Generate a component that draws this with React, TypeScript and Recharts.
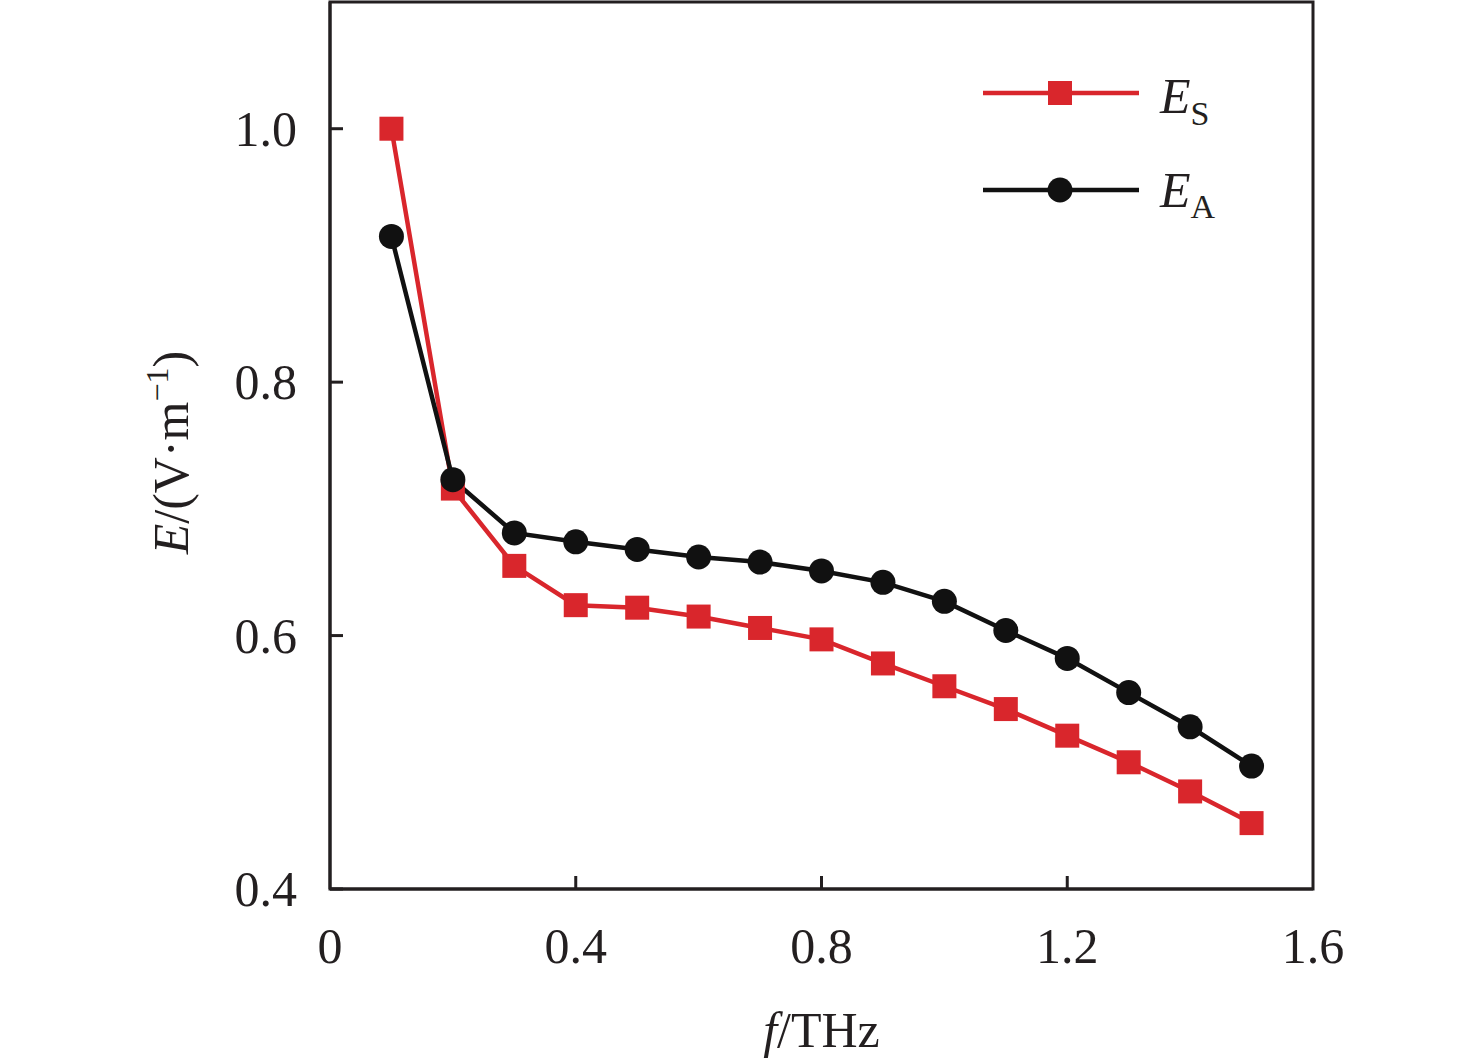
import { LineChart, Line, XAxis, YAxis, ReferenceArea, Legend, Label } from 'recharts';

// ─── Data ───
const freqs = [0.1, 0.2, 0.3, 0.4, 0.5, 0.6, 0.7, 0.8, 0.9, 1.0, 1.1, 1.2, 1.3, 1.4, 1.5];
const eS = [1.0, 0.716, 0.655, 0.624, 0.622, 0.615, 0.606, 0.597, 0.578, 0.560, 0.542, 0.521, 0.500, 0.477, 0.452];
const eA = [0.915, 0.723, 0.681, 0.674, 0.668, 0.662, 0.658, 0.651, 0.642, 0.627, 0.604, 0.582, 0.555, 0.528, 0.497];
const xTicks = [0, 0.4, 0.8, 1.2, 1.6];
const yTicks = [0.4, 0.6, 0.8, 1.0];

const data = freqs.map((f, i) => ({ f, es: eS[i], ea: eA[i] }));

const RED = '#d9262c';
const BLACK = '#111111';
const AXIS = '#231f20';
const FONT = '"Liberation Serif", "Times New Roman", serif';

const fmtX = (v: number) => (v === 0 ? '0' : v.toFixed(1));

const YTick = ({ x, y, payload }: any) => (
  <g>
    <line x1={x} y1={y} x2={x + 13} y2={y} stroke={AXIS} strokeWidth={3} />
    <text x={x - 33} y={y} dy="0.34em" textAnchor="end" fontFamily={FONT} fontSize={50} fill={AXIS}>
      {payload.value.toFixed(1)}
    </text>
  </g>
);

const XTick = ({ x, y, payload }: any) => (
  <g>
    {payload.value !== 0 && payload.value !== 1.6 && (
      <line x1={x} y1={y} x2={x} y2={y - 13} stroke={AXIS} strokeWidth={3} />
    )}
    <text x={x} y={y + 74} textAnchor="middle" fontFamily={FONT} fontSize={50} fill={AXIS}>
      {fmtX(payload.value)}
    </text>
  </g>
);

const SquareDot = ({ cx, cy }: any) => (
  <rect x={cx - 12} y={cy - 12} width={24} height={24} fill={RED} />
);

const CircleDot = ({ cx, cy }: any) => <circle cx={cx} cy={cy} r={12.5} fill={BLACK} />;

const LegendBox = () => (
  <svg width={260} height={180}>
    <line x1={3} y1={33} x2={159} y2={33} stroke={RED} strokeWidth={4.5} />
    <rect x={68} y={21} width={24} height={24} fill={RED} />
    <text x={180} y={53} fontFamily={FONT} fontSize={50} fill={AXIS}>
      <tspan fontStyle="italic">E</tspan>
      <tspan fontSize={34} dy={12}>S</tspan>
    </text>
    <line x1={3} y1={130} x2={159} y2={130} stroke={BLACK} strokeWidth={4.5} />
    <circle cx={80} cy={130} r={12.5} fill={BLACK} />
    <text x={180} y={147} fontFamily={FONT} fontSize={50} fill={AXIS}>
      <tspan fontStyle="italic">E</tspan>
      <tspan fontSize={34} dy={11}>A</tspan>
    </text>
  </svg>
);

const YLabel = ({ viewBox }: any) => {
  const cx = viewBox.x + viewBox.width - 142;
  const cy = viewBox.y + viewBox.height / 2 + 7;
  return (
    <text
      x={cx}
      y={cy}
      textAnchor="middle"
      transform={`rotate(-90, ${cx}, ${cy})`}
      fontFamily={FONT}
      fontSize={50}
      fill={AXIS}
    >
      <tspan fontStyle="italic">E</tspan>
      <tspan>/(V·m</tspan>
      <tspan fontSize={32} dy={-20}>−1</tspan>
      <tspan dy={20}>)</tspan>
    </text>
  );
};

const XLabel = ({ viewBox }: any) => (
  <text
    x={viewBox.x + viewBox.width / 2}
    y={viewBox.y + 158}
    textAnchor="middle"
    fontFamily={FONT}
    fontSize={50}
    fill={AXIS}
  >
    <tspan fontStyle="italic">f</tspan>
    <tspan>/THz</tspan>
  </text>
);

export default function App() {
  return (
    <div style={{ position: 'absolute', left: 0, top: 0, width: 1476, height: 1063, background: '#fff' }}>
      <LineChart width={1476} height={1063} data={data} margin={{ top: 2, right: 163, bottom: 114, left: 250 }}>
        <XAxis
          dataKey="f"
          type="number"
          domain={[0, 1.6]}
          ticks={xTicks}
          height={60}
          tick={<XTick />}
          tickLine={false}
          tickSize={0}
          tickMargin={0}
          axisLine={{ stroke: AXIS, strokeWidth: 3 }}
          interval={0}
        >
          <Label content={<XLabel />} />
        </XAxis>
        <YAxis
          type="number"
          domain={[0.4, 1.1]}
          ticks={yTicks}
          width={80}
          tick={<YTick />}
          tickLine={false}
          tickSize={0}
          tickMargin={0}
          axisLine={{ stroke: AXIS, strokeWidth: 3 }}
          interval={0}
        >
          <Label content={<YLabel />} />
        </YAxis>
        <ReferenceArea x1={0} x2={1.6} y1={0.4} y2={1.1} fill="none" stroke={AXIS} strokeWidth={3} />
        <Line
          dataKey="es"
          stroke={RED}
          strokeWidth={4.5}
          dot={<SquareDot />}
          activeDot={false}
          isAnimationActive={false}
          type="linear"
        />
        <Line
          dataKey="ea"
          stroke={BLACK}
          strokeWidth={4.5}
          dot={<CircleDot />}
          activeDot={false}
          isAnimationActive={false}
          type="linear"
        />
        <Legend
          layout="horizontal"
          verticalAlign="middle"
          align="center"
          content={<LegendBox />}
          wrapperStyle={{ position: 'absolute', left: 980, top: 60, width: 260, height: 180 }}
        />
      </LineChart>
    </div>
  );
}
